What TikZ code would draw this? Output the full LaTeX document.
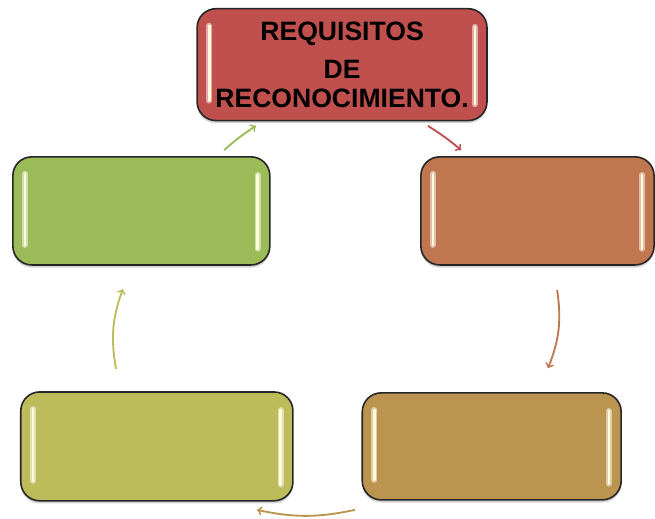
\documentclass[tikz,border=0pt]{standalone}
\usepackage{fontspec}
\setmainfont{Liberation Sans}
\usetikzlibrary{calc,shadows}

\definecolor{redc}{RGB}{192,80,77}
\definecolor{greenc}{RGB}{155,187,89}
\definecolor{orangec}{RGB}{192,118,79}
\definecolor{tanc}{RGB}{187,149,80}
\definecolor{olivec}{RGB}{188,188,90}

\tikzset{
  box/.style={draw=black!85,line width=1.2pt,rounded corners=0.5cm,fill=#1,
    drop shadow={opacity=0.35,shadow xshift=0pt,shadow yshift=-2pt},
    path picture={
      \draw[#1!25!white,line width=4.5pt,opacity=0.7,line cap=round]
        ($(path picture bounding box.north west)+(0.32,-0.45)$) -- ($(path picture bounding box.south west)+(0.32,0.53)$)
        ($(path picture bounding box.north east)+(-0.32,-0.48)$) -- ($(path picture bounding box.south east)+(-0.32,0.43)$);
      \draw[yellow!15!white,line width=2pt,line cap=round]
        ($(path picture bounding box.north west)+(0.32,-0.45)$) -- ($(path picture bounding box.south west)+(0.32,0.53)$)
        ($(path picture bounding box.north east)+(-0.32,-0.48)$) -- ($(path picture bounding box.south east)+(-0.32,0.43)$);
    }},
  cyc/.style={->,line width=1.4pt,draw=#1}
}

\begin{document}
\begin{tikzpicture}
        \useasboundingbox (0,0) rectangle (17.33,-13.73);

        \node (reqs) at (9.05,-1.71) [box=redc,minimum width=7.67cm,minimum height=2.96cm,align=center,font=\fontsize{20}{21.75}\selectfont\bfseries] {REQUISITOS\\[6.75pt]DE\\RECONOCIMIENTO.};
        \node (stepa) at (14.22,-5.58) [box=orangec,minimum width=6.17cm,minimum height=2.86cm] {};
        \node (stepb) at (13.01,-11.81) [box=tanc,minimum width=6.85cm,minimum height=2.83cm] {};
        \node (stepc) at (4.15,-11.81) [box=olivec,minimum width=7.20cm,minimum height=2.88cm] {};
        \node (stepd) at (3.74,-5.58) [box=greenc,minimum width=6.80cm,minimum height=2.86cm] {};

        \coordinate (ra) at (11.32,-3.33);
        \coordinate (rb) at (12.20,-3.97);
        \coordinate (oa) at (14.74,-7.67);
        \coordinate (ob) at (14.50,-9.74);
        \coordinate (ta) at (9.39,-13.49);
        \coordinate (tb) at (6.80,-13.49);
        \coordinate (ya) at (3.07,-9.76);
        \coordinate (yb) at (3.25,-7.65);
        \coordinate (ga) at (5.93,-3.97);
        \coordinate (gb) at (6.77,-3.33);

        \draw[cyc=redc] (ra) to[bend left=4] (rb);
        \draw[cyc=orangec] (oa) to[bend left=15] (ob);
        \draw[cyc=tanc] (ta) to[bend left=12] (tb);
        \draw[cyc=olivec] (ya) to[bend left=15] (yb);
        \draw[cyc=greenc] (ga) to[bend left=4] (gb);
    \end{tikzpicture}
\end{document}
